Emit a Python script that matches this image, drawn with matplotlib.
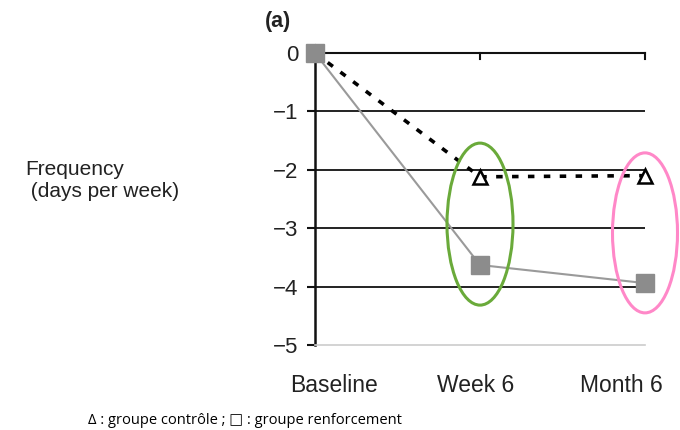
import matplotlib
matplotlib.use("Agg")
import matplotlib.pyplot as plt
import matplotlib.transforms as mtransforms
from matplotlib.patches import Ellipse

categories = ["Baseline", "Week 6", "Month 6"]
controle = [0, -2.12, -2.10]
renforcement = [0, -3.63, -3.94]
yticks = [0, -1, -2, -3, -4, -5]
ytick_labels = ["0", "\u22121", "\u22122", "\u22123", "\u22124", "\u22125"]

plt.rcParams['font.family'] = ['Liberation Sans', 'DejaVu Sans']

fig = plt.figure(figsize=(6.8, 4.3), dpi=100)
ax = fig.add_axes([315/680, 1-345/430, 330/680, 292/430])
x = list(range(len(categories)))

ax.set_xlim(0, 2)
ax.set_ylim(-5, 0)

# gridlines
for yv in [-1, -2, -3, -4]:
    ax.axhline(yv, color='#111111', lw=1.3, zorder=1)
ax.axhline(0, color='#111111', lw=1.5, zorder=1, clip_on=False)

ax.plot(x, controle, color='black', lw=2.6, ls=(0, (1.8, 2.6)), marker='^',
        markersize=10, markerfacecolor='white', markeredgecolor='black',
        markeredgewidth=1.8, clip_on=False, zorder=3)
ax.plot(x, renforcement, color='#9a9a9a', lw=1.5, marker='s', markersize=13,
        markerfacecolor='#8c8c8c', markeredgecolor='#8c8c8c', clip_on=False, zorder=4)

for s in ['top', 'right']:
    ax.spines[s].set_visible(False)
ax.spines['left'].set_linewidth(1.8)
ax.spines['left'].set_color('#111111')
ax.spines['bottom'].set_color('#cccccc')
ax.spines['bottom'].set_linewidth(1.2)

ax.set_yticks(yticks)
ax.set_yticklabels(ytick_labels, fontsize=16)
ax.tick_params(axis='y', length=6, width=1.5, pad=6, colors='#111111')
for lbl in ax.get_yticklabels():
    lbl.set_color('#222222')
ax.set_xticks(x)
ax.set_xticklabels(categories, fontsize=16.5, color='#222222')
ax.tick_params(axis='x', length=0, pad=21)

# shift x tick labels horizontally as in the reference
offsets_px = [19, -4, -24]
for lbl, dx in zip(ax.get_xticklabels(), offsets_px):
    lbl.set_transform(lbl.get_transform() +
                      mtransforms.ScaledTranslation(dx / 100, 0, fig.dpi_scale_trans))

# small ticks on zero line
for xi in x[1:]:
    ax.plot([xi, xi], [0, -0.1], color='#111111', lw=1.5, clip_on=False, zorder=2)

# ellipses
ax.add_patch(Ellipse((1, renforcement[1] + 0.7), width=66/165, height=162/58.4,
                     fill=False, edgecolor='#6aaa3a', lw=2.2, clip_on=False, zorder=5))
ax.add_patch(Ellipse((2, -3.08), width=65/165, height=160/58.4,
                     fill=False, edgecolor='#ff88c8', lw=2.2, clip_on=False, zorder=5))

fig.text(265/680, 1-22/430, "(a)", fontsize=15.5, fontweight='bold', ha='left', va='center',
         color='#222222')
fig.text(25/680, 1-180/430, "Frequency\n (days per week)", fontsize=15, ha='left',
         va='center', color='#222222', linespacing=1.2)
fig.text(88/680, 1-420/430, "\u0394 : groupe contrôle ; \u25a1 : groupe renforcement",
         fontsize=10.5, ha='left', va='center', family=['Open Sans', 'DejaVu Sans'])

fig.savefig("out.png", dpi=100)
